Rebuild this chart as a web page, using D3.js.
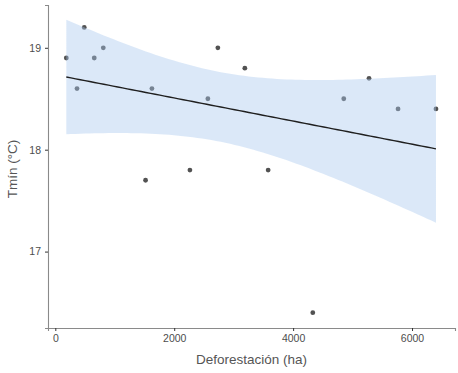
<!DOCTYPE html>
<html>
<head>
<meta charset="utf-8">
<script src="https://cdn.jsdelivr.net/npm/d3@7"></script>
<style>
  html, body { margin: 0; padding: 0; background: #fff; }
  svg { display: block; font-family: "Liberation Sans", Arial, sans-serif; }
</style>
</head>
<body>
<svg id="chart" width="458" height="373"></svg>
<script>
// Deforested area (ha) and minimum temperature (°C) per site
const deforestacion = [185, 365, 487, 655, 807, 1518, 1625, 2264, 2566, 2734, 3188, 3580, 4331, 4852, 5277, 5765, 6403];
const tmin          = [18.9, 18.6, 19.2, 18.9, 19.0, 17.7, 18.6, 17.8, 18.5, 19.0, 18.8, 17.8, 16.4, 18.5, 18.7, 18.4, 18.4];
const xTicks = [0, 2000, 4000, 6000];
const yTicks = [17, 18, 19];

const W = 458, H = 373;
const margin = { left: 48, right: 3, top: 5, bottom: 45 };
const svg = d3.select("#chart");

const x = d3.scaleLinear().domain([-123, 6723]).range([margin.left, W - margin.right]);
const y = d3.scaleLinear().domain([16.25, 19.42]).range([H - margin.bottom, margin.top]);

// Ordinary least squares fit with a 95% confidence band
const n = deforestacion.length;
const mx = d3.mean(deforestacion), my = d3.mean(tmin);
let sxx = 0, sxy = 0;
for (let i = 0; i < n; i++) {
  sxx += (deforestacion[i] - mx) ** 2;
  sxy += (deforestacion[i] - mx) * (tmin[i] - my);
}
const b = sxy / sxx, a = my - b * mx;
let sse = 0;
for (let i = 0; i < n; i++) sse += (tmin[i] - a - b * deforestacion[i]) ** 2;
const s = Math.sqrt(sse / (n - 2));
const tcrit = 2.131; // t(0.975, df = 15)

const [xmin, xmax] = d3.extent(deforestacion);
const grid = d3.range(80).map(i => xmin + (xmax - xmin) * i / 79);
const fit = grid.map(xv => {
  const yhat = a + b * xv;
  const se = s * Math.sqrt(1 / n + (xv - mx) ** 2 / sxx);
  return { x: xv, y: yhat, lo: yhat - tcrit * se, hi: yhat + tcrit * se };
});

// Points first, band and line on top
svg.append("g").selectAll("circle")
  .data(deforestacion.map((d, i) => [d, tmin[i]]))
  .join("circle")
  .attr("cx", d => x(d[0]))
  .attr("cy", d => y(d[1]))
  .attr("r", 2.4)
  .attr("fill", "#3f3f3f")
  .attr("fill-opacity", 0.9);

svg.append("path")
  .datum(fit)
  .attr("d", d3.area().x(d => x(d.x)).y0(d => y(d.lo)).y1(d => y(d.hi)))
  .attr("fill", "#a9c8ef")
  .attr("fill-opacity", 0.42);

svg.append("path")
  .datum(fit)
  .attr("d", d3.line().x(d => x(d.x)).y(d => y(d.y)))
  .attr("fill", "none")
  .attr("stroke", "#1f1f1f")
  .attr("stroke-width", 1.4);

// Axes
const xAxis = svg.append("g")
  .attr("transform", `translate(0,${H - margin.bottom})`)
  .call(d3.axisBottom(x).tickValues(xTicks).tickSize(3).tickPadding(4).tickFormat(d3.format("d")));
const yAxis = svg.append("g")
  .attr("transform", `translate(${margin.left},0)`)
  .call(d3.axisLeft(y).tickValues(yTicks).tickSize(3).tickPadding(4).tickFormat(d3.format("d")));

[xAxis, yAxis].forEach(g => {
  g.select(".domain").attr("stroke", "#8a8a8a").attr("stroke-width", 1.1);
  g.selectAll(".tick line").attr("stroke", "#333");
  g.selectAll(".tick text").attr("fill", "#4d4d4d").style("font-size", "10.5px");
});

svg.append("text")
  .attr("x", x(3300)).attr("y", 364)
  .attr("text-anchor", "middle")
  .attr("fill", "#555")
  .style("font-size", "13.5px")
  .text("Deforestación (ha)");

svg.append("text")
  .attr("transform", "translate(17,169) rotate(-90)")
  .attr("text-anchor", "middle")
  .attr("fill", "#555")
  .style("font-size", "13.5px")
  .text("Tmín (°C)");
</script>
</body>
</html>
